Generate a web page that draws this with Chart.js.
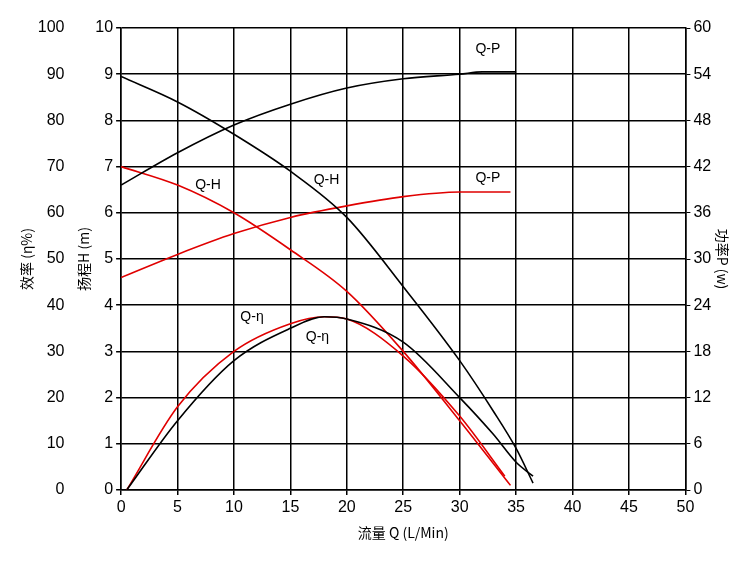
<!DOCTYPE html>
<html><head><meta charset="utf-8">
<script src="https://cdn.jsdelivr.net/npm/chart.js@4"></script>
<style>body{margin:0;background:#fff}#wrap{width:750px;height:571px}</style>
</head><body><div id="wrap"><canvas id="c"></canvas></div>
<script>
const flowBlack = [0, 5, 10, 15, 20, 25, 30, 33, 35, 36.5];
const headBlack = [8.95, 8.4, 7.7, 6.9, 5.9, 4.4, 2.8, 1.7, 0.9, 0.15];
const effFlowBlack = [0.5, 5, 10, 15, 18, 20, 25, 30, 33, 35, 36.5];
const effBlack = [0, 15, 28, 35, 37.5, 37, 32, 20, 12, 6, 3];
const powFlowBlack = [0, 5, 10, 15, 20, 25, 30, 32, 35];
const powBlack = [39.6, 43.8, 47.4, 50.1, 52.2, 53.4, 54, 54.3, 54.3];

const flowRed = [0, 5, 10, 15, 20, 25, 30, 34.5];
const headRed = [7, 6.6, 6.0, 5.2, 4.3, 3.0, 1.5, 0.1];
const effFlowRed = [0.5, 5, 10, 15, 18, 20, 25, 30, 34];
const effRed = [0, 18, 30, 36, 37.5, 37, 29, 16, 3];
const powFlowRed = [0, 5, 10, 15, 20, 25, 30, 34.5];
const powRed = [27.6, 30.6, 33.3, 35.4, 36.9, 38.1, 38.7, 38.7];

const curveLabels = [
  {t: "Q-P", x: 32.5, y: 9.55}, {t: "Q-H", x: 7.7, y: 6.6}, {t: "Q-H", x: 18.2, y: 6.7},
  {t: "Q-P", x: 32.5, y: 6.75}, {t: "Q-η", x: 11.6, y: 3.75}, {t: "Q-η", x: 17.4, y: 3.3}
];

const pts = (xs, ys) => xs.map((x, i) => ({x, y: ys[i]}));
function ds(xs, ys, color, axis) {
  return {data: pts(xs, ys), borderColor: color, borderWidth: 1.6, pointRadius: 0,
    cubicInterpolationMode: "monotone", yAxisID: axis, fill: false};
}

const labelPlugin = {
  id: "labels",
  afterDatasetsDraw(ch) {
    const c = ch.ctx, sx = ch.scales.x, sy = ch.scales.yH;
    c.save();
    c.font = "14px 'Liberation Sans', Arial";
    c.fillStyle = "#000";
    c.textAlign = "center";
    c.textBaseline = "middle";
    curveLabels.forEach(l => c.fillText(l.t, sx.getPixelForValue(l.x), sy.getPixelForValue(l.y)));
    c.restore();
  }
};

const tickFont = {family: "'Liberation Sans', Arial", size: 16};
const titleFont = {family: "'Noto Sans CJK SC', sans-serif", size: 14};

new Chart(document.getElementById("c"), {
  type: "line",
  data: {datasets: [
    ds(flowBlack, headBlack, "#000", "yH"),
    ds(effFlowBlack, effBlack, "#000", "yE"),
    ds(powFlowBlack, powBlack, "#000", "yP"),
    ds(flowRed, headRed, "#e00000", "yH"),
    ds(effFlowRed, effRed, "#e00000", "yE"),
    ds(powFlowRed, powRed, "#e00000", "yP")
  ]},
  plugins: [labelPlugin],
  options: {
    responsive: true, maintainAspectRatio: false, animation: false,
    layout: {padding: {top: 28, right: 19, bottom: 26, left: 18}},
    plugins: {legend: {display: false}, tooltip: {enabled: false}},
    scales: {
      x: {type: "linear", min: 0, max: 50,
        ticks: {stepSize: 5, color: "#000", font: tickFont},
        grid: {color: "#000", lineWidth: 1.5, tickLength: 5},
        border: {color: "#000", width: 1.5},
        title: {display: true, text: "流量 Q (L/Min)", color: "#000", font: titleFont}},
      yH: {position: "left", min: 0, max: 10, weight: 1,
        ticks: {stepSize: 1, color: "#000", font: tickFont},
        grid: {color: "#000", lineWidth: 1.5, tickLength: 5},
        border: {color: "#000", width: 1.5},
        title: {display: true, text: "扬程H (m)", color: "#000", font: titleFont, padding: 0}},
      yE: {position: "left", min: 0, max: 100, weight: 2,
        ticks: {stepSize: 10, color: "#000", font: tickFont},
        grid: {display: false, drawOnChartArea: false}, border: {display: false},
        title: {display: true, text: "效率 (η%)", color: "#000", font: titleFont, padding: 0}},
      yP: {position: "right", min: 0, max: 60,
        ticks: {stepSize: 6, color: "#000", font: tickFont},
        grid: {drawOnChartArea: false, color: "#000", tickLength: 5},
        border: {color: "#000", width: 1.5},
        title: {display: true, text: "功率P (w)", color: "#000", font: titleFont, padding: 0}}
    }
  }
});
</script></body></html>
